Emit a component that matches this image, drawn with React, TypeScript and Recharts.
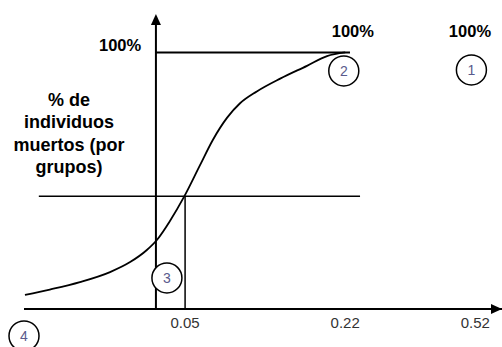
import React from 'react';
import { LineChart, Line, XAxis, YAxis, ReferenceLine, ReferenceDot } from 'recharts';

// eje X esquemático (posición 0-100), eje Y = % de individuos muertos
const curveX = [0.2, 5.4, 11.7, 18, 22.2, 25.7, 27.8, 30.5, 33.5, 36.8, 39.5, 42.5, 45.2, 48.7, 53.6, 59.2, 63.4, 67.2];
const curveY = [5.5, 7.6, 10.5, 14.4, 18.3, 23, 26.9, 34.2, 43.8, 56, 65.9, 74.6, 80.2, 84.8, 89.8, 94.8, 98.6, 100];

const tickPositions = [33.7, 67.2, 94.4];
const tickLabels = ['0.05', '0.22', '0.52'];

const yAxisAt = 27.6;
const cutLevel = 44;
const cutDose = 33.7;
const topLineEnd = 68.2;
const midLineStart = 3.1;
const midLineEnd = 70.3;

const circleIds = ['1', '2', '3', '4'];
const circleX = [93.6, 66.9, 29.9, 0];
const circleY = [93.2, 92.8, 12.1, -10.5];

const pctX = [20.1, 68.8, 93.3];
const pctY = [102.9, 108.4, 108.4];

const titleLines = ['% de', 'individuos', 'muertos (por', 'grupos)'];
const titleX = 9.4;
const titleY = 68.6;

const FONT = '"Liberation Sans", Arial, sans-serif';

const data = curveX.map((x, i) => ({ x, y: curveY[i] }));

const UpArrow = (p: any) => (
  <path d={`M${p.cx},${p.cy} L${p.cx - 5},${p.cy + 11} L${p.cx + 5},${p.cy + 11} Z`} fill="#000" />
);

const RightArrow = (p: any) => (
  <path d={`M${p.cx},${p.cy} L${p.cx - 11},${p.cy - 5} L${p.cx - 11},${p.cy + 5} Z`} fill="#000" />
);

const NumberCircle = (id: string) => (p: any) => (
  <g>
    <circle cx={p.cx} cy={p.cy} r={15} fill="#fff" stroke="#000" strokeWidth={1.5} />
    <text x={p.cx} y={p.cy + 5} textAnchor="middle" fontSize={14} fontFamily={FONT} fill="#5a5a8c">
      {id}
    </text>
  </g>
);

const PctLabel = (p: any) => (
  <text x={p.cx} y={p.cy + 6} textAnchor="middle" fontSize={16.5} fontWeight="bold" fontFamily={FONT} fill="#000">
    100%
  </text>
);

const Title = (p: any) => (
  <text x={p.cx} y={p.cy - 27} textAnchor="middle" fontSize={18} fontWeight="bold" fontFamily={FONT} fill="#000">
    {titleLines.map((line, i) => (
      <tspan key={line} x={p.cx} dy={i === 0 ? 0 : 22.3}>
        {line}
      </tspan>
    ))}
  </text>
);

export default function App() {
  return (
    <div style={{ position: 'absolute', left: 0, top: 0, background: '#fff' }}>
      <LineChart width={502} height={347} data={data} margin={{ top: 14, right: 0, left: 24, bottom: 0 }}>
        <XAxis
          type="number"
          dataKey="x"
          domain={[0, 100]}
          ticks={tickPositions}
          interval={0}
          tickFormatter={(v: number) => tickLabels[tickPositions.indexOf(v)]}
          tickLine={false}
          tickMargin={2}
          height={38}
          axisLine={{ stroke: '#000', strokeWidth: 2 }}
          tick={{ fill: '#333', fontSize: 15, fontFamily: FONT }}
        />
        <YAxis type="number" domain={[0, 115]} hide width={0} />

        <ReferenceLine segment={[{ x: yAxisAt, y: 0 }, { x: yAxisAt, y: 112 }]} stroke="#000" strokeWidth={2} />
        <ReferenceLine segment={[{ x: yAxisAt, y: 100 }, { x: topLineEnd, y: 100 }]} stroke="#000" strokeWidth={2} />
        <ReferenceLine segment={[{ x: midLineStart, y: cutLevel }, { x: midLineEnd, y: cutLevel }]} stroke="#000" strokeWidth={1.5} />
        <ReferenceLine segment={[{ x: cutDose, y: 0 }, { x: cutDose, y: cutLevel }]} stroke="#000" strokeWidth={1.5} />

        <ReferenceDot x={yAxisAt} y={115} r={0} shape={UpArrow} ifOverflow="visible" />
        <ReferenceDot x={100} y={0} r={0} shape={RightArrow} ifOverflow="visible" />

        <Line
          type="monotone"
          dataKey="y"
          stroke="#000"
          strokeWidth={1.8}
          dot={false}
          activeDot={false}
          isAnimationActive={false}
        />

        {circleIds.map((id, i) => (
          <ReferenceDot key={id} x={circleX[i]} y={circleY[i]} r={0} shape={NumberCircle(id)} ifOverflow="visible" />
        ))}
        {pctX.map((x, i) => (
          <ReferenceDot key={'p' + i} x={x} y={pctY[i]} r={0} shape={PctLabel} ifOverflow="visible" />
        ))}
        <ReferenceDot x={titleX} y={titleY} r={0} shape={Title} ifOverflow="visible" />
      </LineChart>
    </div>
  );
}
